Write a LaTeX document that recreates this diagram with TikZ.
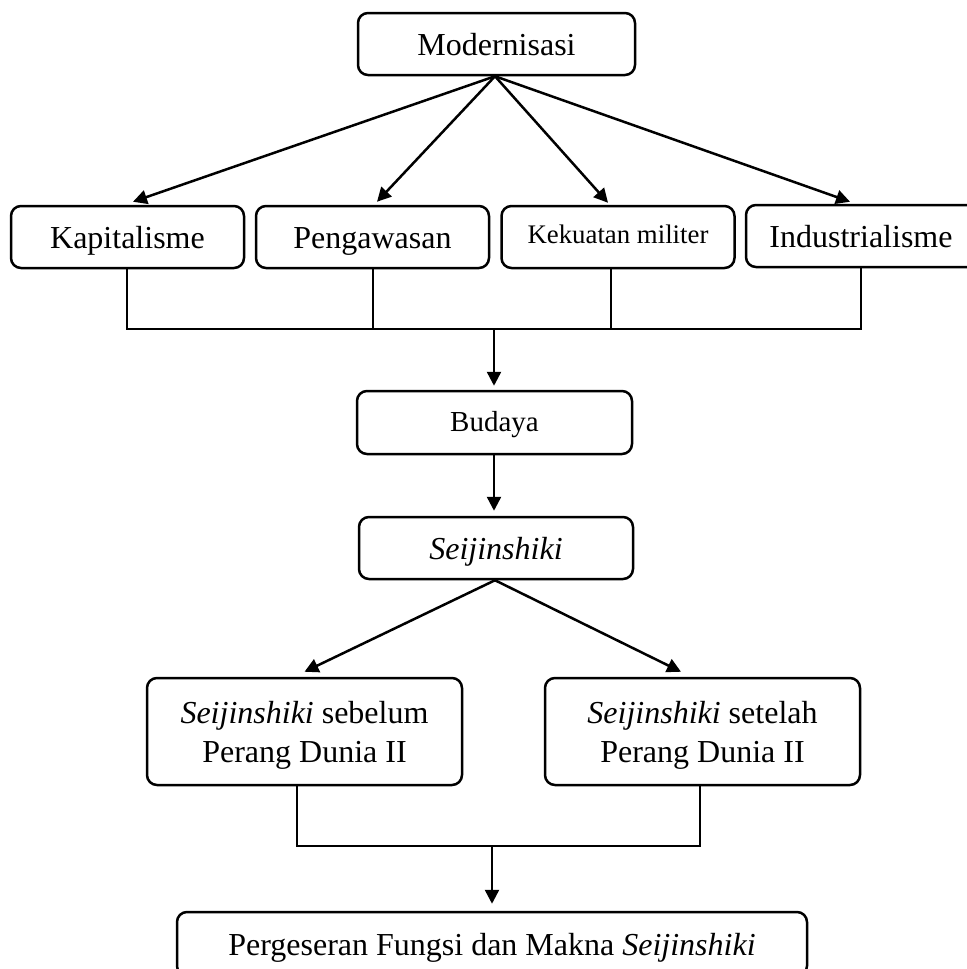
\documentclass[tikz,border=0pt]{standalone}
\usepackage{fontspec}
\setmainfont{Liberation Serif}
\usetikzlibrary{arrows.meta}
\begin{document}
\begin{tikzpicture}[x=0.5pt,y=-0.5pt,
 box/.style={draw, line width=1.25pt, rounded corners=5pt, inner sep=0pt, align=center, text height=12pt, text depth=1pt, font=\fontsize{16}{19.5}\selectfont},
 twoline/.style={text height=31.5pt, text depth=1pt},
 arr/.style={line width=1.25pt, -{Triangle[length=7pt,width=7pt]}},
 seg/.style={line width=0.8pt}]
\useasboundingbox (0,0) rectangle (967,969);
\clip (0,0) rectangle (967,969);
% nodes
\node[box, minimum width=138.5pt, minimum height=31pt] (mod) at (496.5,44) {Modernisasi};
\node[box, minimum width=116.5pt, minimum height=31pt] (kap) at (127.5,237) {Kapitalisme};
\node[box, minimum width=116.5pt, minimum height=31pt] (pen) at (372.5,237) {Pengawasan};
\node[box, minimum width=116.5pt, minimum height=31pt, text height=9pt, text depth=3pt, font=\fontsize{13.4}{16}\selectfont] (kek) at (618,237) {Kekuatan militer};
\node[box, minimum width=118pt, minimum height=31pt] (ind) at (864,236) {\hspace*{-3pt}Industrialisme};
\node[box, minimum width=137.5pt, minimum height=31.5pt, text height=10pt, text depth=1pt, font=\fontsize{14.5}{17}\selectfont] (bud) at (494.5,422.5) {Budaya};
\node[box, minimum width=137pt, minimum height=31pt] (sei) at (496,548) {\itshape Seijinshiki};
\node[box, twoline, minimum width=157.5pt, minimum height=53.5pt] (sb) at (304.5,731.5) {\textit{Seijinshiki} sebelum\\Perang Dunia II};
\node[box, twoline, minimum width=157.5pt, minimum height=53.5pt] (ss) at (702.5,731.5) {\textit{Seijinshiki} setelah\\Perang Dunia II};
\node[box, minimum width=315pt, minimum height=32pt] (per) at (492,944) {Pergeseran Fungsi dan Makna \textit{Seijinshiki}};
% helper coordinates
\coordinate (top) at ([xshift=-0.75pt]mod.south);
\coordinate (j1) at (494,329);
\coordinate (kapb) at ([xshift=-0.25pt]kap.south);
\coordinate (penb) at ([xshift=0.25pt]pen.south);
\coordinate (kekb) at ([xshift=-3.5pt]kek.south);
\coordinate (indb) at ([xshift=-1.5pt]ind.south);
\coordinate (sbb) at ([xshift=-3.75pt]sb.south);
\coordinate (ssb) at ([xshift=-1.25pt]ss.south);
\coordinate (j2) at (492,846);
\coordinate (bot) at ([xshift=-0.5pt]sei.south);
% arrows from Modernisasi
\draw[arr] (top) -- ([xshift=2.75pt,yshift=1.5pt]kap.north);
\draw[arr] (top) -- ([xshift=2.25pt,yshift=1.5pt]pen.north);
\draw[arr] (top) -- ([xshift=-5pt,yshift=1pt]kek.north);
\draw[arr] (top) -- ([xshift=-7pt,yshift=1pt]ind.north);
% bracket 1
\draw[seg] (kapb) |- (indb |- j1) -- (indb);
\draw[seg] (penb) -- (penb |- j1);
\draw[seg] (kekb) -- (kekb |- j1);
\draw[arr, shorten >=2pt] (j1) -- (j1 |- bud.north);
\draw[arr, shorten >=2.5pt] (bud.south -| j1) -- (j1 |- sei.north);
% arrows from Seijinshiki
\draw[arr] (bot) -- ([yshift=2.5pt]sb.north);
\draw[arr] (bot) -- ([xshift=-10.75pt,yshift=2.5pt]ss.north);
% bracket 2
\draw[seg] (sbb) |- (ssb |- j2) -- (ssb);
\draw[arr, shorten >=3.5pt] (j2) -- (j2 |- per.north);
\end{tikzpicture}
\end{document}
